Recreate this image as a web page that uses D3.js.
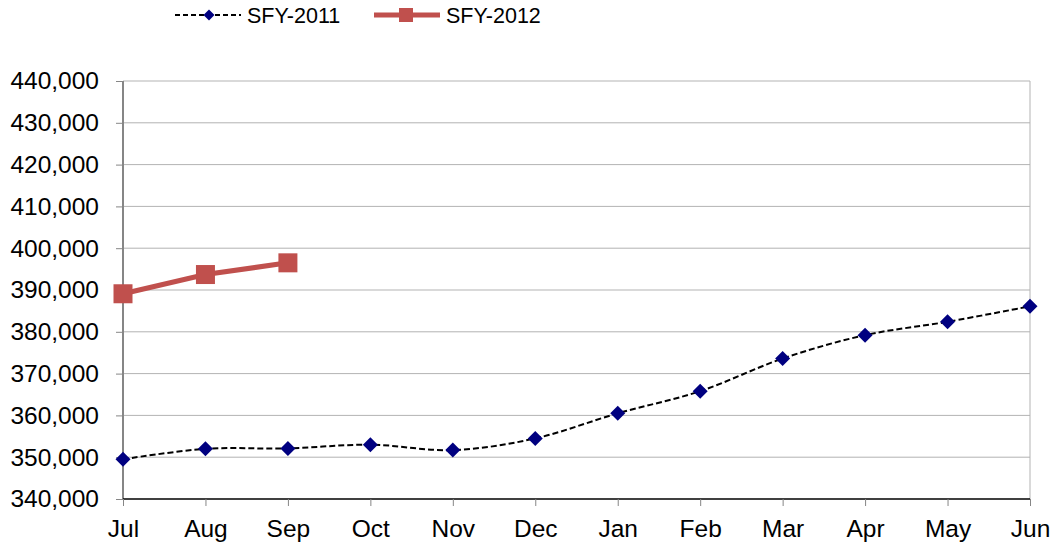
<!DOCTYPE html>
<html>
<head>
<meta charset="utf-8">
<script src="https://cdn.jsdelivr.net/npm/d3@7"></script>
<style>
  body { margin: 0; background: #fff; }
  svg { font-family: "Liberation Sans", Arial, sans-serif; }
</style>
</head>
<body>
<div id="vis"></div>
<script>
// month categories on the x axis
var months = ["Jul", "Aug", "Sep", "Oct", "Nov", "Dec", "Jan", "Feb", "Mar", "Apr", "May", "Jun"];

// values
var sfy2011 = [349500, 352000, 352100, 353000, 351700, 354500, 360500, 365800, 373600, 379200, 382400, 386100];
var sfy2012 = [389100, 393700, 396500];

var yTicks = [340000, 350000, 360000, 370000, 380000, 390000, 400000, 410000, 420000, 430000, 440000];

var width = 1057, height = 550;
var margin = {top: 81, right: 27, bottom: 51, left: 123};

var svg = d3.select("#vis")
    .append("svg")
    .attr("width", width)
    .attr("height", height);

var x = d3.scalePoint()
    .domain(months)
    .range([margin.left, width - margin.right]);

var y = d3.scaleLinear()
    .domain([340000, 440000])
    .range([height - margin.bottom, margin.top]);

var fmt = d3.format(",");

// diamond marker path, half width r
function diamondPath(r) {
    return "M0," + (-r) + "L" + r + ",0L0," + r + "L" + (-r) + ",0Z";
}

// gridlines
svg.append("g")
    .selectAll("line")
    .data(yTicks.slice(1))
    .enter().append("line")
    .attr("x1", margin.left)
    .attr("x2", width - margin.right)
    .attr("y1", d => y(d))
    .attr("y2", d => y(d))
    .attr("stroke", "#b3b3b3")
    .attr("stroke-width", 1);

// right border of plot
svg.append("line")
    .attr("x1", width - margin.right).attr("x2", width - margin.right)
    .attr("y1", margin.top).attr("y2", height - margin.bottom)
    .attr("stroke", "#b3b3b3");

// y axis
var yAxis = svg.append("g")
    .attr("transform", "translate(" + margin.left + ",0)")
    .call(d3.axisLeft(y).tickValues(yTicks).tickFormat(fmt).tickSize(7).tickPadding(17));
yAxis.select(".domain").attr("stroke", "#868686").attr("stroke-width", 2).attr("d", "M0," + margin.top + "V" + (height - margin.bottom));
yAxis.selectAll(".tick line").attr("stroke", "#868686");
yAxis.selectAll("text").attr("font-size", 24.5).attr("fill", "#000");

// x axis
var xAxis = svg.append("g")
    .attr("transform", "translate(0," + (height - margin.bottom) + ")")
    .call(d3.axisBottom(x).tickSize(7).tickPadding(14));
xAxis.select(".domain").attr("stroke", "#000").attr("stroke-width", 1.5).attr("d", "M" + margin.left + ",0H" + (width - margin.right));
xAxis.selectAll(".tick line").attr("stroke", "#868686");
xAxis.selectAll("text").attr("font-size", 24.5).attr("fill", "#000");

var smooth = d3.line()
    .x((d, i) => x(months[i]))
    .y(d => y(d))
    .curve(d3.curveCatmullRom.alpha(0));

var straight = d3.line()
    .x((d, i) => x(months[i]))
    .y(d => y(d));

// SFY-2011
svg.append("path")
    .datum(sfy2011)
    .attr("d", smooth)
    .attr("fill", "none")
    .attr("stroke", "#000")
    .attr("stroke-width", 2)
    .attr("stroke-dasharray", "6,3");

svg.append("g")
    .selectAll("path")
    .data(sfy2011)
    .enter().append("path")
    .attr("d", diamondPath(7.5))
    .attr("transform", (d, i) => "translate(" + x(months[i]) + "," + y(d) + ")")
    .attr("fill", "#000080");

// SFY-2012
svg.append("path")
    .datum(sfy2012)
    .attr("d", straight)
    .attr("fill", "none")
    .attr("stroke", "#c0504d")
    .attr("stroke-width", 5);

svg.append("g")
    .selectAll("rect")
    .data(sfy2012)
    .enter().append("rect")
    .attr("x", (d, i) => x(months[i]) - 9.5)
    .attr("y", d => y(d) - 9.5)
    .attr("width", 19)
    .attr("height", 19)
    .attr("fill", "#c0504d");

// legend
var legend = svg.append("g");
legend.append("line")
    .attr("x1", 175).attr("x2", 241).attr("y1", 15).attr("y2", 15)
    .attr("stroke", "#000").attr("stroke-width", 2).attr("stroke-dasharray", "5,3");
legend.append("path")
    .attr("d", diamondPath(5.5))
    .attr("transform", "translate(209,15)")
    .attr("fill", "#000080");
legend.append("text")
    .attr("x", 247).attr("y", 23)
    .attr("font-size", 21.5)
    .text("SFY-2011");

legend.append("line")
    .attr("x1", 374).attr("x2", 440).attr("y1", 15).attr("y2", 15)
    .attr("stroke", "#c0504d").attr("stroke-width", 5);
legend.append("rect")
    .attr("x", 399).attr("y", 8).attr("width", 14).attr("height", 14)
    .attr("fill", "#c0504d");
legend.append("text")
    .attr("x", 446).attr("y", 23)
    .attr("font-size", 21.5)
    .text("SFY-2012");
</script>
</body>
</html>
